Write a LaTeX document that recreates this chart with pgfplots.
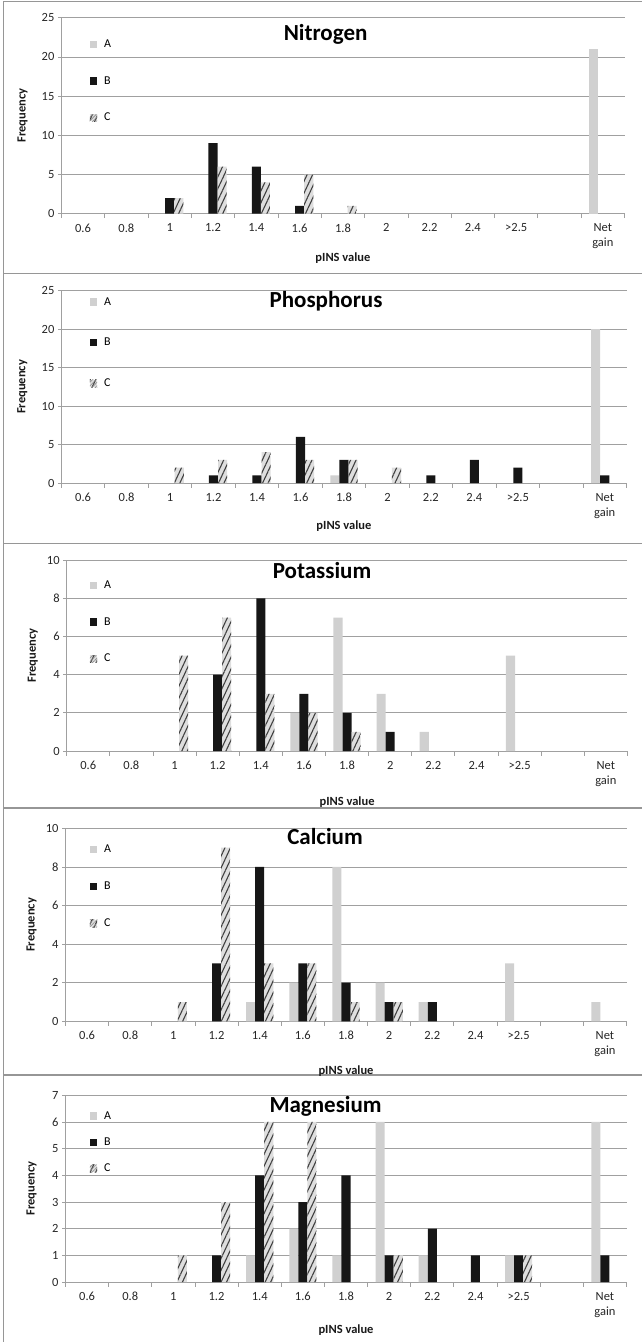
\documentclass[border=0pt]{standalone}
\usepackage{fontspec}
\setmainfont{Carlito}
\usepackage{pgfplots}
\pgfplotsset{compat=1.18}
\usetikzlibrary{patterns.meta}
\definecolor{colA}{RGB}{208,208,208}
\definecolor{colB}{RGB}{22,22,22}
\definecolor{colC}{RGB}{222,222,222}
\definecolor{gridc}{RGB}{160,160,160}
\definecolor{framec}{RGB}{150,150,150}
\newcommand{\tfont}{\fontsize{12.5}{15}\selectfont}
\pgfplotsset{
  panel/.style={
    scale only axis,
    xmin=-0.5, xmax=12.5, ymin=0,
    bar width=0.21,
    xtick={0,...,12},
    xticklabels={0.6,0.8,1,1.2,1.4,1.6,1.8,2,2.2,2.4,{>2.5},{},{Net\\gain}},
    minor xtick={-0.5,0.5,...,12.5},
    major x tick style={draw=none},
    minor x tick style={draw=gridc, line width=0.8pt},
    y tick style={draw=gridc, line width=0.8pt},
    tick align=outside,
    major tick length=3.5pt, minor tick length=4.5pt,
    axis x line*=bottom, axis y line*=left,
    axis line style={draw=gridc, line width=0.8pt, -},
    ymajorgrids, grid style={draw=gridc, line width=0.8pt},
    tick label style={font=\tfont, text=black!85},
    xticklabel style={align=center, yshift=-3pt},
    /pgf/number format/assume math mode=true,
    xlabel={pINS value}, ylabel={Frequency},
    label style={font=\bfseries\tfont, text=black!90},
    legend style={draw=none, fill=none, anchor=north west, font=\fontsize{12}{14}\selectfont, inner sep=0pt, column sep=5pt},
    legend cell align=left,
  },
  serA/.style={ybar, fill=colA, draw=none, bar shift=-0.21,
    legend image code/.code={\fill[colA] (0pt,-3.65pt) rectangle (7.3pt,3.65pt);}},
  serB/.style={ybar, fill=colB, draw=none, bar shift=0,
    legend image code/.code={\fill[colB] (0pt,-3.65pt) rectangle (7.3pt,3.65pt);}},
  serC/.style={ybar, fill=colC, draw=none, bar shift=0.21,
    postaction={pattern={Lines[angle=65,distance=5pt,line width=1.1pt]}, pattern color=black!75},
    legend image code/.code={\fill[colC, postaction={pattern={Lines[angle=45,distance=2.5pt,line width=0.6pt]}, pattern color=black!45}] (0pt,-3.65pt) rectangle (7.3pt,3.65pt);}},
}
\begin{document}
\begin{tikzpicture}[x=1pt,y=1pt]
\useasboundingbox (0,0) rectangle (642,-1342);
% frame
\draw[framec, line width=1.3pt] (3.3,-1.7) -- (3.3,-1342);
\foreach \yy in {1.7,273.3,543.3,808,1075} {\draw[framec, line width=1.3pt] (3.3,-\yy) -- (642,-\yy);}

% ---------------- Nitrogen
\begin{axis}[panel, at={(61.4pt,-213.7pt)}, anchor=south west, width=563.1pt, height=196pt,
  ymax=25, ytick={0,5,...,25},
  ylabel style={at={(axis description cs:-0.069,0.5)}, anchor=center},
  xlabel style={at={(axis description cs:0.5,-0.226)}, anchor=center},
  legend style={at={(axis description cs:0.050,0.899)}, row sep=23.5pt}]
\addplot[serA] coordinates {(12,21)};
\addplot[serB] coordinates {(2,2) (3,9) (4,6) (5,1)};
\addplot[serC] coordinates {(2,2) (3,6) (4,4) (5,5) (6,1)};
\legend{A,B,C}
\end{axis}
\node[font=\bfseries\fontsize{23}{27}\selectfont, anchor=base] at (325.6,-40) {Nitrogen};

% ---------------- Phosphorus
\begin{axis}[panel, at={(61.4pt,-483pt)}, anchor=south west, width=565.1pt, height=192.3pt,
  ymax=25, ytick={0,5,...,25},
  ylabel style={at={(axis description cs:-0.069,0.5)}, anchor=center},
  xlabel style={at={(axis description cs:0.5,-0.225)}, anchor=center},
  legend style={at={(axis description cs:0.050,0.977)}, row sep=27.5pt}]
\addplot[serA] coordinates {(6,1) (12,20)};
\addplot[serB] coordinates {(3,1) (4,1) (5,6) (6,3) (8,1) (9,3) (10,2) (12,1)};
\addplot[serC] coordinates {(2,2) (3,3) (4,4) (5,3) (6,3) (7,2)};
\legend{A,B,C}
\end{axis}
\node[font=\bfseries\fontsize{23}{27}\selectfont, anchor=base] at (326,-307.3) {Phosphorus};

% ---------------- Potassium
\begin{axis}[panel, at={(66.7pt,-751pt)}, anchor=south west, width=560.7pt, height=190.7pt,
  ymax=10, ytick={0,2,...,10},
  ylabel style={at={(axis description cs:-0.0606,0.5)}, anchor=center},
  xlabel style={at={(axis description cs:0.5,-0.27)}, anchor=center},
  legend style={at={(axis description cs:0.041,0.905)}, row sep=23.5pt}]
\addplot[serA] coordinates {(5,2) (6,7) (7,3) (8,1) (10,5)};
\addplot[serB] coordinates {(3,4) (4,8) (5,3) (6,2) (7,1)};
\addplot[serC] coordinates {(2,5) (3,7) (4,3) (5,2) (6,1)};
\legend{A,B,C}
\end{axis}
\node[font=\bfseries\fontsize{23}{27}\selectfont, anchor=base] at (322,-578.7) {Potassium};

% ---------------- Calcium
\begin{axis}[panel, at={(65.5pt,-1021.3pt)}, anchor=south west, width=561pt, height=193pt,
  ymax=10, ytick={0,2,...,10},
  ylabel style={at={(axis description cs:-0.0606,0.5)}, anchor=center},
  xlabel style={at={(axis description cs:0.5,-0.26)}, anchor=center},
  legend style={at={(axis description cs:0.043,0.927)}, row sep=23.9pt}]
\addplot[serA] coordinates {(4,1) (5,2) (6,8) (7,2) (8,1) (10,3) (12,1)};
\addplot[serB] coordinates {(3,3) (4,8) (5,3) (6,2) (7,1) (8,1)};
\addplot[serC] coordinates {(2,1) (3,9) (4,3) (5,3) (6,1) (7,1)};
\legend{A,B,C}
\end{axis}
\node[font=\bfseries\fontsize{23}{27}\selectfont, anchor=base] at (325,-844) {Calcium};

% ---------------- Magnesium
\begin{axis}[panel, at={(65.5pt,-1282pt)}, anchor=south west, width=561pt, height=186.7pt,
  ymax=7, ytick={0,1,...,7},
  ylabel style={at={(axis description cs:-0.0606,0.5)}, anchor=center},
  xlabel style={at={(axis description cs:0.5,-0.259)}, anchor=center},
  legend style={at={(axis description cs:0.043,0.925)}, row sep=13pt}]
\addplot[serA] coordinates {(4,1) (5,2) (6,1) (7,6) (8,1) (10,1) (12,6)};
\addplot[serB] coordinates {(3,1) (4,4) (5,3) (6,4) (7,1) (8,2) (9,1) (10,1) (12,1)};
\addplot[serC] coordinates {(2,1) (3,3) (4,6) (5,6) (7,1) (10,1)};
\legend{A,B,C}
\end{axis}
\node[font=\bfseries\fontsize{23}{27}\selectfont, anchor=base] at (325.6,-1112.7) {Magnesium};
\end{tikzpicture}
\end{document}
